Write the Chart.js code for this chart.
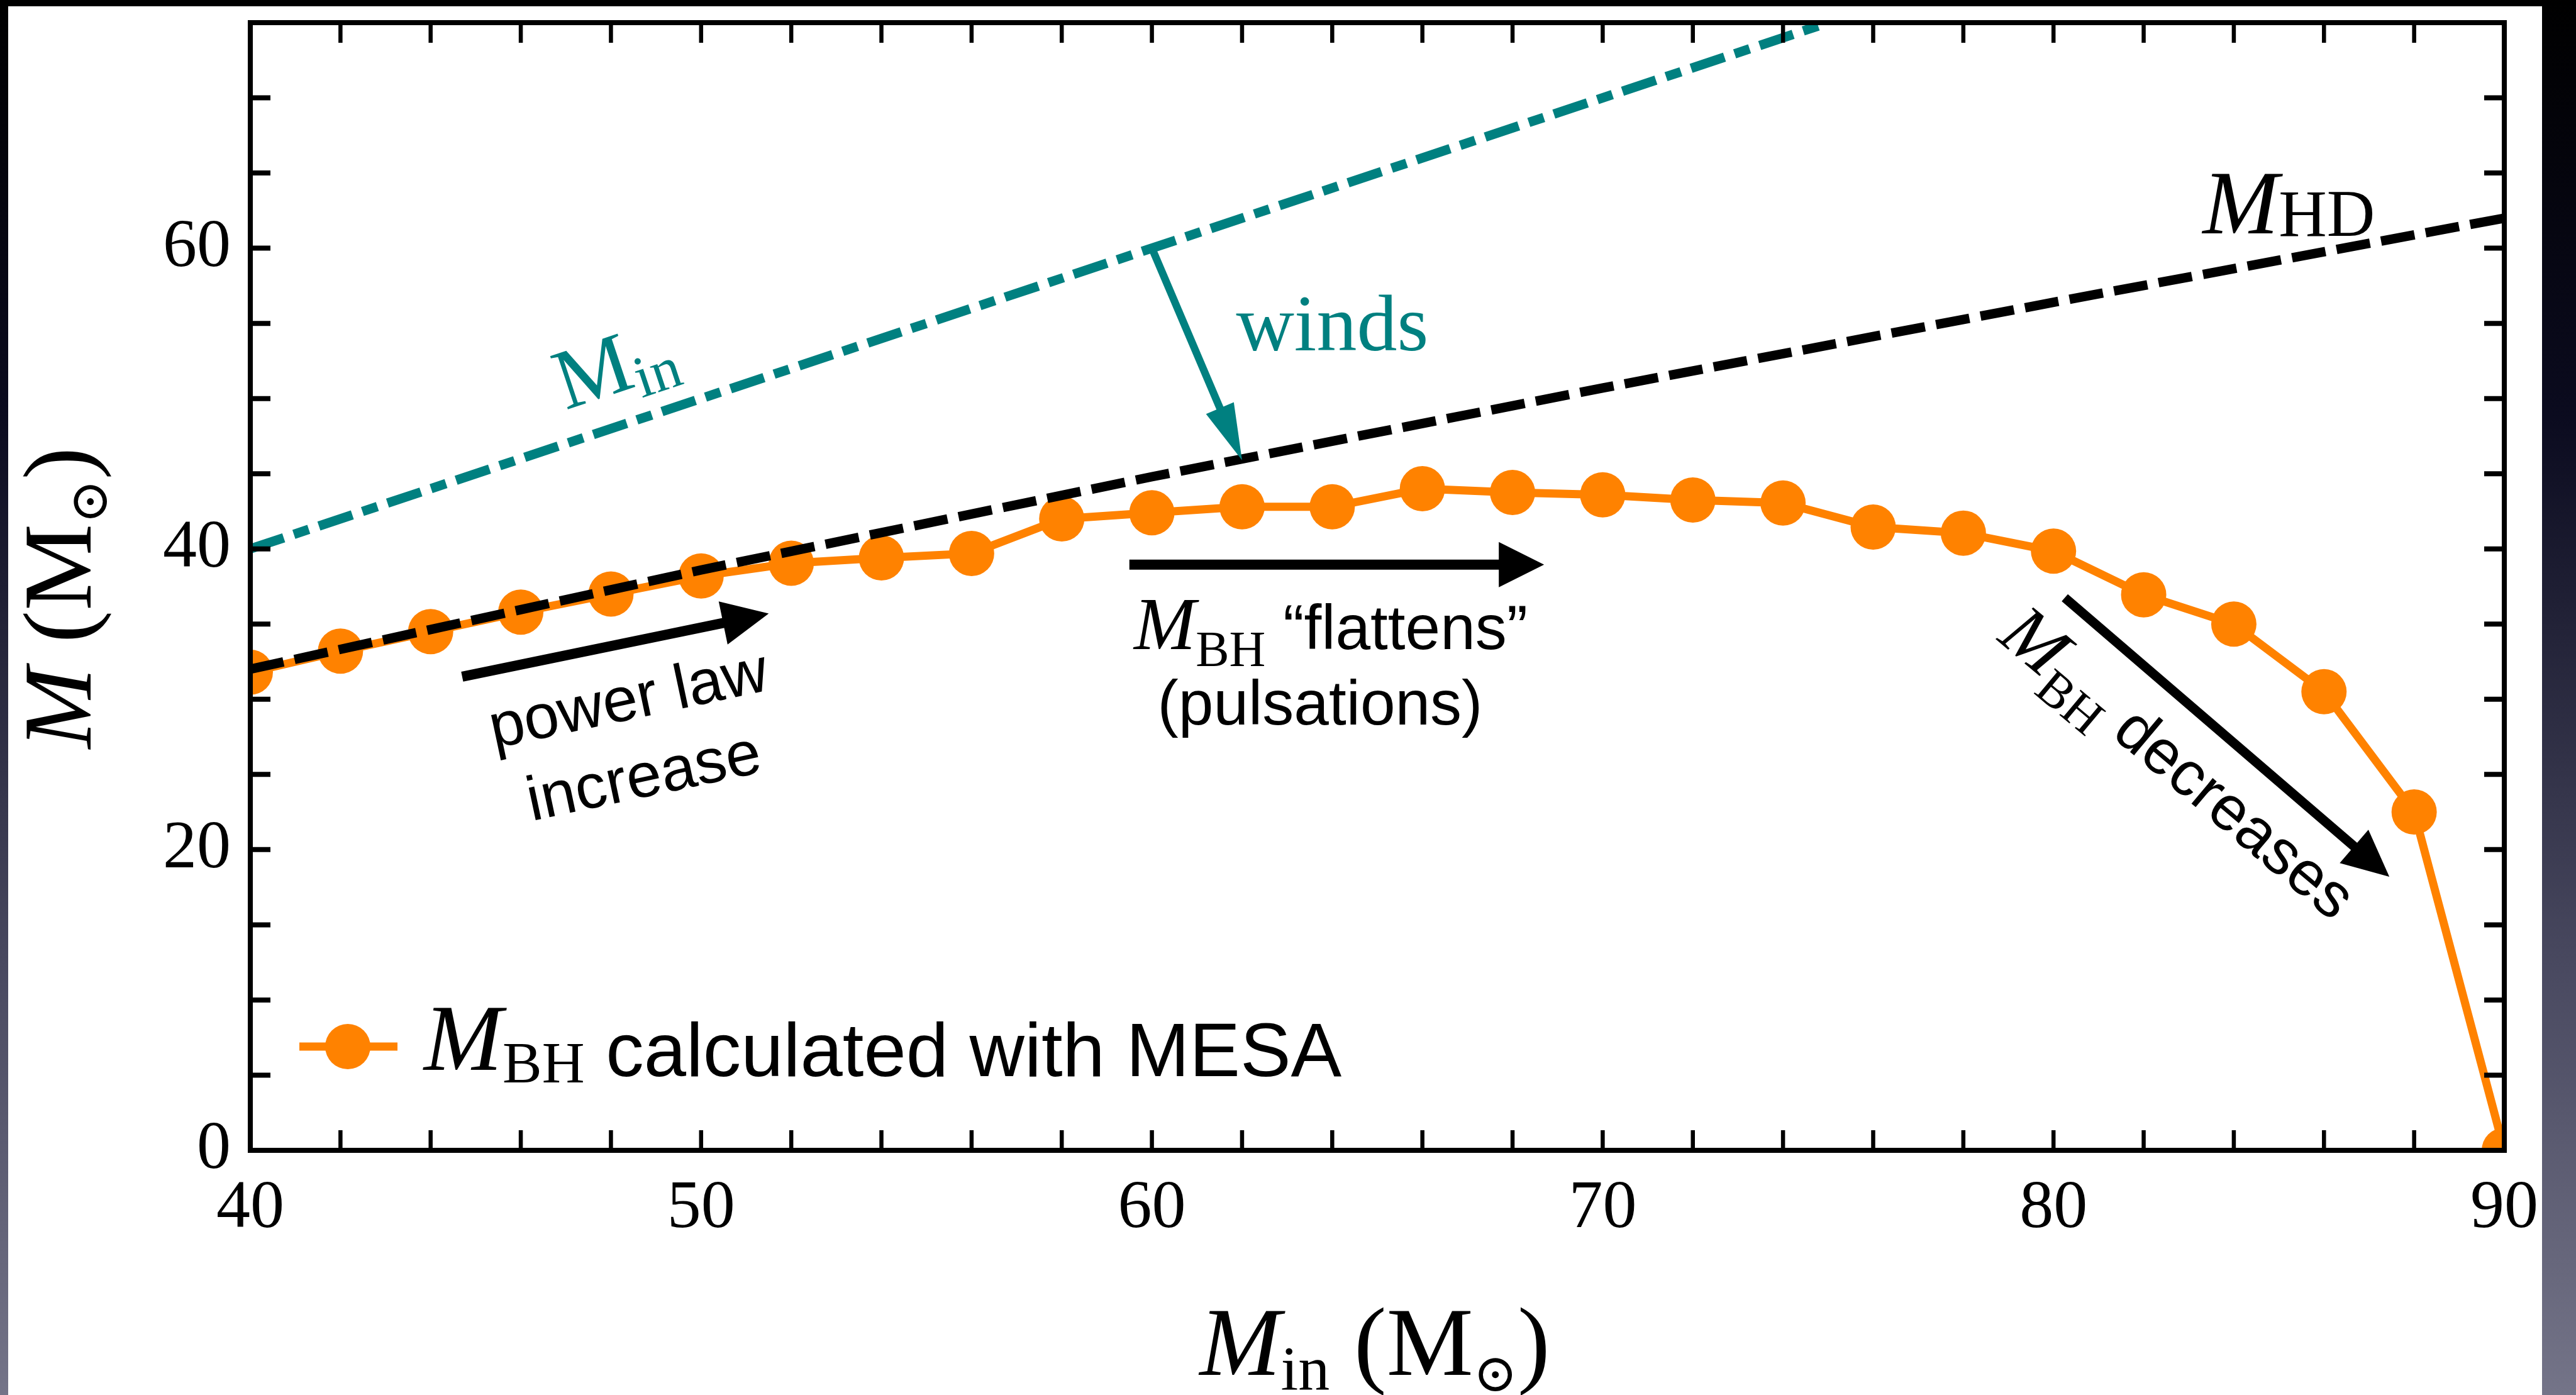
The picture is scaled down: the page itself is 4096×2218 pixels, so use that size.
<!DOCTYPE html>
<html lang="en">
<head>
<meta charset="UTF-8">
<title>BH mass vs initial mass</title>
<script src="https://cdn.jsdelivr.net/npm/chart.js"></script>
<style>
    html, body { margin: 0; padding: 0; background: #000; }
    #wrap { width: 4096px; height: 2218px; }
</style>
</head>
<body>
<div id="wrap"><canvas id="chart"></canvas></div>
<script>
    // initial masses of the MESA runs and the resulting BH masses (Msun)
    const mIn = [40, 42, 44, 46, 48, 50, 52, 54, 56, 58, 60, 62, 64, 66, 68, 70, 72, 74, 76, 78, 80, 82, 84, 86, 88, 90];
    const mBH = [31.8, 33.2, 34.5, 35.8, 37.0, 38.2, 39.05, 39.4, 39.7, 42.0, 42.4, 42.8, 42.8, 44.0, 43.75, 43.6,
        43.25, 43.05, 41.45, 41.05, 39.85, 36.95, 35.0, 30.5, 22.5, 0];
    // M_HD curve
    const hdX = [40, 50, 60, 70, 80, 90];
    const hdY = [32.0, 38.6, 44.8, 50.7, 56.4, 62.0];
    // M = M_in line
    const inX = [40, 75];
    const inY = [40, 75];
    // labelled ticks
    const xLabels = [40, 50, 60, 70, 80, 90];
    const yLabels = [0, 20, 40, 60];

    const ORANGE = '#ff8200';
    const TEAL = '#008080';
    const SERIF = '"Liberation Serif", "DejaVu Serif", serif';
    const SANS = '"Liberation Sans", Arial, sans-serif';
    const SUN = '"DejaVu Serif", "DejaVu Sans", serif';

    const pts = (xs, ys) => xs.map((x, i) => ({x: x, y: ys[i]}));

    // annotations, in data coordinates
    const arrows = [
        {from: [44.7, 31.5], to: [51.5, 35.7], color: '#000', width: 16, head: 74, headW: 70},
        {from: [59.5, 38.95], to: [68.7, 38.95], color: '#000', width: 16, head: 72, headW: 72},
        {from: [80.25, 36.75], to: [87.45, 18.2], color: '#000', width: 15, head: 74, headW: 70},
        {from: [60, 60], to: [62.0, 45.9], color: TEAL, width: 12, head: 90, headW: 48}
    ];
    const notes = [
        {at: [48.1, 52.1], rot: 'inLine', align: 'center', dy: 40, color: TEAL, parts: [
            {text: 'M', font: '136px ' + SERIF},
            {text: 'in', font: '94px ' + SERIF, dy: 20}]},
        {at: [64.0, 53.2], rot: 0, align: 'center', dy: 0, color: TEAL, parts: [
            {text: 'winds', font: '128px ' + SERIF}]},
        {at: [83.31, 60.98], rot: 0, align: 'left', dy: 0, color: '#000', parts: [
            {text: 'M', font: 'italic 145px ' + SERIF},
            {text: 'HD', font: '106px ' + SERIF, dy: 4}]},
        {at: [48.39, 29.91], rot: -12, align: 'center', dy: 30, color: '#000', parts: [
            {text: 'power law', font: '100px ' + SANS}]},
        {at: [48.73, 24.77], rot: -12, align: 'center', dy: 30, color: '#000', parts: [
            {text: 'increase', font: '100px ' + SANS}]},
        {at: [59.6, 33.35], rot: 0, align: 'left', dy: 0, color: '#000', parts: [
            {text: 'M', font: 'italic 118px ' + SERIF},
            {text: 'BH', font: '80px ' + SERIF, dy: 27},
            {text: ' \u201Cflattens\u201D', font: '100px ' + SANS}]},
        {at: [63.73, 28.3], rot: 0, align: 'center', dy: 0, color: '#000', parts: [
            {text: '(pulsations)', font: '100px ' + SANS}]},
        {at: [82.73, 25.53], rot: 40, align: 'center', dy: 30, color: '#000', parts: [
            {text: 'M', font: 'italic 118px ' + SERIF},
            {text: 'BH', font: '80px ' + SERIF, dy: 27},
            {text: ' decreases', font: '100px ' + SANS}]}
    ];

    function richWidth(ctx, parts) {
        let w = 0;
        parts.forEach(p => { ctx.font = p.font; w += ctx.measureText(p.text).width; });
        return w;
    }

    function drawRich(ctx, parts, x, y, align) {
        let cx = align === 'center' ? x - richWidth(ctx, parts) / 2 : x;
        ctx.textBaseline = 'alphabetic';
        ctx.textAlign = 'left';
        parts.forEach(p => {
            ctx.font = p.font;
            ctx.fillText(p.text, cx, y + (p.dy || 0));
            cx += ctx.measureText(p.text).width;
        });
    }

    function drawArrow(ctx, x1, y1, x2, y2, w, hl, hw, color) {
        const ang = Math.atan2(y2 - y1, x2 - x1);
        const c = Math.cos(ang), s = Math.sin(ang);
        const bx = x2 - hl * c, by = y2 - hl * s;
        ctx.strokeStyle = color;
        ctx.fillStyle = color;
        ctx.lineWidth = w;
        ctx.lineCap = 'butt';
        ctx.beginPath();
        ctx.moveTo(x1, y1);
        ctx.lineTo(bx + 2 * c, by + 2 * s);
        ctx.stroke();
        ctx.beginPath();
        ctx.moveTo(x2, y2);
        ctx.lineTo(bx + hw / 2 * s, by - hw / 2 * c);
        ctx.lineTo(bx - hw / 2 * s, by + hw / 2 * c);
        ctx.closePath();
        ctx.fill();
    }

    // slide-like backdrop: dark gradient with a white sheet
    const backdrop = {
        id: 'backdrop',
        beforeDraw(chart) {
            const ctx = chart.ctx;
            const g = ctx.createLinearGradient(0, 0, 0, chart.height);
            g.addColorStop(0, '#000000');
            g.addColorStop(0.3, '#0b0b1f');
            g.addColorStop(0.7, '#4a4a61');
            g.addColorStop(1, '#747488');
            ctx.save();
            ctx.fillStyle = g;
            ctx.fillRect(0, 0, chart.width, chart.height);
            ctx.fillStyle = '#fff';
            ctx.fillRect(13, 10, 4029, chart.height - 10);
            ctx.restore();
        }
    };

    const decorations = {
        id: 'decorations',
        afterDatasetsDraw(chart) {
            const {ctx, chartArea: a, scales: {x, y}} = chart;
            const TICK = 32;
            ctx.save();
            ctx.strokeStyle = '#000';
            ctx.lineCap = 'butt';
            // inward ticks on all four sides
            ctx.lineWidth = 6.5;
            x.ticks.forEach(t => {
                if (t.value <= x.min || t.value >= x.max) return;
                const px = x.getPixelForValue(t.value);
                ctx.beginPath();
                ctx.moveTo(px, a.bottom); ctx.lineTo(px, a.bottom - TICK);
                ctx.moveTo(px, a.top); ctx.lineTo(px, a.top + TICK);
                ctx.stroke();
            });
            ctx.lineWidth = 8;
            y.ticks.forEach(t => {
                if (t.value <= y.min || t.value >= y.max) return;
                const py = y.getPixelForValue(t.value);
                ctx.beginPath();
                ctx.moveTo(a.left, py); ctx.lineTo(a.left + TICK, py);
                ctx.moveTo(a.right, py); ctx.lineTo(a.right - TICK, py);
                ctx.stroke();
            });
            ctx.lineWidth = 8;
            ctx.strokeRect(a.left, a.top, a.right - a.left, a.bottom - a.top);

            // arrows
            arrows.forEach(ar => {
                drawArrow(ctx,
                    x.getPixelForValue(ar.from[0]), y.getPixelForValue(ar.from[1]),
                    x.getPixelForValue(ar.to[0]), y.getPixelForValue(ar.to[1]),
                    ar.width, ar.head, ar.headW, ar.color);
            });

            // text notes
            const lineAng = Math.atan2(
                y.getPixelForValue(inY[1]) - y.getPixelForValue(inY[0]),
                x.getPixelForValue(inX[1]) - x.getPixelForValue(inX[0]));
            notes.forEach(n => {
                ctx.save();
                ctx.translate(x.getPixelForValue(n.at[0]), y.getPixelForValue(n.at[1]));
                ctx.rotate(n.rot === 'inLine' ? lineAng : n.rot * Math.PI / 180);
                ctx.fillStyle = n.color;
                drawRich(ctx, n.parts, 0, n.dy, n.align);
                ctx.restore();
            });

            // legend, lower left inside the frame
            const ly = a.bottom - 165;
            ctx.strokeStyle = ORANGE;
            ctx.fillStyle = ORANGE;
            ctx.lineWidth = 13;
            ctx.beginPath();
            ctx.moveTo(a.left + 78, ly); ctx.lineTo(a.left + 234, ly);
            ctx.stroke();
            ctx.beginPath();
            ctx.arc(a.left + 155, ly, 36, 0, Math.PI * 2);
            ctx.fill();
            ctx.fillStyle = '#000';
            drawRich(ctx, [
                {text: 'M', font: 'italic 150px ' + SERIF, dy: -10},
                {text: 'BH', font: '94px ' + SERIF, dy: 10},
                {text: ' calculated with MESA', font: '121px ' + SANS}
            ], a.left + 276, a.bottom - 118, 'left');

            // axis titles
            drawRich(ctx, [
                {text: 'M', font: 'italic 155px ' + SERIF},
                {text: 'in', font: '100px ' + SERIF, dy: 23},
                {text: ' (M', font: '155px ' + SERIF},
                {text: '\u2299', font: '84px ' + SUN, dy: 26},
                {text: ')', font: '155px ' + SERIF}
            ], (a.left + a.right) / 2 - 4, a.bottom + 357, 'center');

            ctx.save();
            ctx.translate(a.left - 254, (a.top + a.bottom) / 2 + 18);
            ctx.rotate(-Math.PI / 2);
            drawRich(ctx, [
                {text: 'M', font: 'italic 155px ' + SERIF},
                {text: ' (M', font: '155px ' + SERIF},
                {text: '\u2299', font: '84px ' + SUN, dy: 26},
                {text: ')', font: '155px ' + SERIF}
            ], 0, 0, 'center');
            ctx.restore();

            ctx.restore();
        }
    };

    const config = {
        type: 'line',
        data: {
            datasets: [
                {
                    label: 'M_HD',
                    data: pts(hdX, hdY),
                    borderColor: '#000',
                    borderWidth: 15,
                    borderDash: [54, 18],
                    borderCapStyle: 'butt',
                    pointRadius: 0,
                    tension: 0,
                    order: 0,
                    clip: 0
                },
                {
                    label: 'M_BH calculated with MESA',
                    data: pts(mIn, mBH),
                    borderColor: ORANGE,
                    backgroundColor: ORANGE,
                    borderWidth: 13,
                    pointRadius: 36,
                    pointHoverRadius: 36,
                    pointBorderWidth: 0,
                    pointBackgroundColor: ORANGE,
                    tension: 0,
                    order: 1,
                    clip: 0
                },
                {
                    label: 'M_in',
                    data: pts(inX, inY),
                    borderColor: TEAL,
                    borderWidth: 15,
                    borderDash: [56, 17, 25, 17],
                    borderCapStyle: 'butt',
                    pointRadius: 0,
                    tension: 0,
                    order: 2,
                    clip: 0
                }
            ]
        },
        options: {
            responsive: true,
            maintainAspectRatio: false,
            animation: false,
            events: [],
            layout: {
                autoPadding: false,
                padding: {left: 0, top: 36, right: 114, bottom: 0}
            },
            plugins: {
                legend: {display: false},
                tooltip: {enabled: false}
            },
            scales: {
                x: {
                    type: 'linear',
                    min: 40,
                    max: 90,
                    grid: {display: false, drawTicks: false},
                    border: {display: false},
                    ticks: {
                        stepSize: 2,
                        autoSkip: false,
                        maxRotation: 0,
                        minRotation: 0,
                        padding: 29,
                        color: '#000',
                        font: {family: SERIF, size: 108},
                        callback: v => xLabels.includes(v) ? String(v) : ''
                    },
                    afterFit: s => {
                        s.height = 389;
                        s.paddingLeft = 0;
                        s.paddingRight = 0;
                    }
                },
                y: {
                    type: 'linear',
                    min: 0,
                    max: 75,
                    grid: {display: false, drawTicks: false},
                    border: {display: false},
                    ticks: {
                        stepSize: 5,
                        autoSkip: false,
                        padding: 31,
                        color: '#000',
                        font: {family: SERIF, size: 108},
                        callback: v => yLabels.includes(v) ? String(v) : ''
                    },
                    afterFit: s => {
                        s.width = 398;
                        s.paddingTop = 0;
                        s.paddingBottom = 0;
                    }
                }
            }
        },
        plugins: [backdrop, decorations]
    };

    const chart = new Chart(document.getElementById('chart'), config);
</script>
</body>
</html>
